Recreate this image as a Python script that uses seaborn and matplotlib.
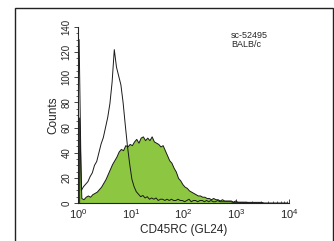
import numpy as np
import pandas as pd
import matplotlib
matplotlib.use("Agg")
import matplotlib.pyplot as plt
from matplotlib.patches import Rectangle
from matplotlib.ticker import LogLocator, MultipleLocator, NullFormatter
import seaborn as sns

# 24 channels per decade, 4 decades (10^0 .. 10^4)
n_per_decade = 24
n_decades = 4

# control (isotype) histogram, unfilled outline
control_counts = [130, 10, 13, 15, 17, 21, 24, 30, 33, 40, 47, 52, 60, 68, 79, 96,
                  122, 108, 101, 94, 80, 62, 45, 31, 19, 13, 9, 7, 5, 6, 4, 5,
                  3, 4, 3, 4, 2, 3, 3, 2, 3, 2, 3, 2, 2, 3, 2, 2,
                  1, 2, 3, 1, 2, 2, 1, 2, 2, 1, 2, 1, 2, 1, 1, 2,
                  1, 1, 1, 1, 1, 1, 0.5, 0.5, 0.5, 0.5, 0.5, 0.5, 0.5, 0.5, 0.5, 0.5,
                  0.5, 0.5, 0.5, 0.5, 0, 0, 0, 0, 0, 0, 0, 0, 0, 0, 0, 0]

# CD45RC stained histogram, green filled
stained_counts = [68, 4, 3, 5, 6, 5, 7, 8, 9, 11, 13, 16, 19, 23, 27, 31,
                  34, 37, 41, 43, 42, 46, 45, 47, 46, 49, 51, 48, 52, 53, 50, 52,
                  50, 53, 49, 48, 47, 45, 46, 42, 38, 34, 32, 28, 25, 20, 18, 15,
                  13, 12, 10, 9, 8, 7, 6, 6, 5, 5, 4, 4, 3, 4, 3, 3,
                  2, 3, 2, 2, 2, 2, 1, 2, 1, 1, 1, 1, 1, 0.5, 0.5, 0.5,
                  0.5, 0.5, 0.5, 0.5, 0, 0, 0, 0, 0, 0, 0, 0, 0, 0, 0, 0]

ytick_values = [0, 20, 40, 60, 80, 100, 120, 140]
xtick_labels = ["$10^{0}$", "$10^{1}$", "$10^{2}$", "$10^{3}$", "$10^{4}$"]

n_bins = n_per_decade * n_decades
channel = 10 ** ((np.arange(n_bins) + 0.5) / n_per_decade)
df = pd.DataFrame({"channel": channel,
                   "control": control_counts,
                   "stained": stained_counts})

sns.set_style("ticks")
plt.rcParams["font.family"] = ["Liberation Sans", "DejaVu Sans"]
plt.rcParams["mathtext.default"] = "regular"

fig = plt.figure(figsize=(3.34, 2.41), dpi=100)
ax = fig.add_axes([78 / 334, 1 - 203 / 241, 211 / 334, 176 / 241])

sns.histplot(data=df, x="channel", weights="stained", bins=n_bins,
             binrange=(0, n_decades), log_scale=True, element="poly",
             fill=True, color="#8dc641", alpha=1, edgecolor="#1a1a1a",
             linewidth=0.7, ax=ax)
sns.histplot(data=df, x="channel", weights="control", bins=n_bins,
             binrange=(0, n_decades), log_scale=True, element="poly",
             fill=False, color="#1a1a1a", linewidth=0.7, ax=ax)

ax.set_xlim(1, 1e4)
ax.set_ylim(0, 140)
sns.despine(ax=ax)
for s in ["left", "bottom"]:
    ax.spines[s].set_linewidth(0.8)
    ax.spines[s].set_color("#222222")

ax.xaxis.set_minor_locator(LogLocator(base=10, subs=np.arange(2, 10), numticks=10))
ax.xaxis.set_minor_formatter(NullFormatter())
ax.set_xticks([10 ** k for k in range(n_decades + 1)])
ax.set_xticklabels(xtick_labels)
ax.tick_params(axis="x", which="major", direction="in", length=3, width=0.6,
               labelsize=8, pad=3)
ax.tick_params(axis="x", which="minor", direction="in", length=1.5, width=0.5)

ax.set_yticks(ytick_values)
ax.yaxis.set_minor_locator(MultipleLocator(5))
ax.tick_params(axis="y", which="major", direction="out", length=3, width=0.6,
               labelsize=7, pad=1.5)
ax.tick_params(axis="y", which="minor", direction="out", length=1.5, width=0.5)
for lab in ax.get_yticklabels():
    lab.set_rotation(90)
    lab.set_va("center")

ax.set_xlabel("CD45RC (GL24)", fontsize=8.5, labelpad=2)
ax.set_ylabel("Counts", fontsize=8.5, labelpad=2)

ax.text(0.725, 0.98, "sc-52495\nBALB/c", transform=ax.transAxes,
        fontsize=6.5, va="top", ha="left", linespacing=1.1)

fig.patches.append(Rectangle((15 / 334, -0.1), 318 / 334, 1.1 - 8 / 241,
                             transform=fig.transFigure, fill=False,
                             edgecolor="#222222", linewidth=1.0))

fig.savefig("out.png", dpi=100)
